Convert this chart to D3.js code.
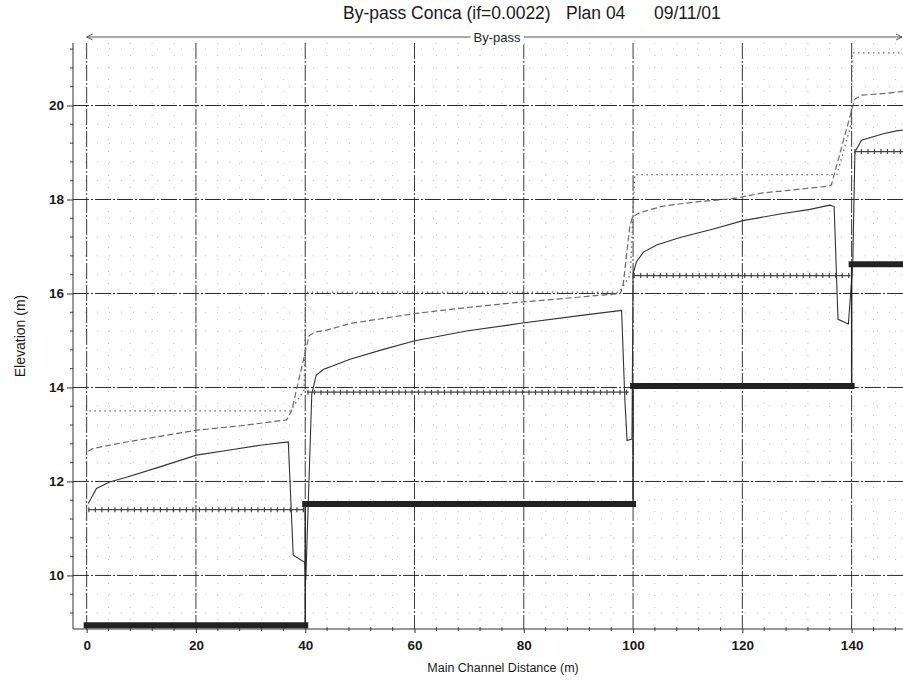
<!DOCTYPE html>
<html><head><meta charset="utf-8">
<script src="https://cdn.jsdelivr.net/npm/d3@7"></script>
<style>
html,body{margin:0;padding:0;background:#fff;}
svg{display:block;font-family:"Liberation Sans",Arial,sans-serif;}
</style></head>
<body>
<svg id="c" width="903" height="682"></svg>
<script>
// ---- data ----
const title = ["By-pass Conca (if=0.0022)", "Plan 04", "09/11/01"];
const reachName = "By-pass";
const xLabel = "Main Channel Distance (m)";
const yLabel = "Elevation (m)";
const xTicks = [0, 20, 40, 60, 80, 100, 120, 140];
const yTicks = [10, 12, 14, 16, 18, 20];

const groundStation = [0, 40, 40, 100, 100, 140, 140, 150];
const groundElev    = [8.94, 8.94, 11.52, 11.52, 14.03, 14.03, 16.62, 16.62];

const bankStation = [0.3, 39.8, null, 40.4, 99.2, null, 100.1, 139.8, null, 140.5, 150];
const bankElev    = [11.40, 11.40, null, 13.90, 13.90, null, 16.38, 16.38, null, 19.02, 19.02];

const wallStation = [0.5, 37.3, 39.8, 40.1, 97.5, 99.5, 100.3, 137.3, 139.9, 140.1, 150];
const wallElev    = [13.50, 13.50, 13.95, 16.03, 16.03, 16.40, 18.53, 18.53, 19.60, 21.12, 21.12];

const egStation = [0.3, 1.1, 7.3, 13.4, 20.1, 28.6, 36.6, 37.5, 40.7, 41.8, 43.9, 48.2, 59.9, 69.5, 79.8, 90.9, 97.7, 98.2, 99.4, 99.9, 101.2, 105.5, 111.6, 118.3, 123.8, 128.1, 135.4, 136.3, 140.0, 140.6, 141.9, 146.4, 150];
const egElev    = [12.64, 12.70, 12.84, 12.96, 13.09, 13.19, 13.31, 13.50, 15.10, 15.18, 15.22, 15.36, 15.57, 15.70, 15.82, 15.93, 16.00, 16.20, 17.42, 17.63, 17.72, 17.86, 17.95, 18.02, 18.14, 18.19, 18.28, 18.31, 19.90, 20.14, 20.22, 20.26, 20.31];

const wsStation = [0.3, 1.8, 4.2, 7.3, 13.4, 20.1, 25.6, 31.7, 36.9, 37.8, 39.9, 40.1, 41.2, 42.0, 43.3, 48.2, 54.3, 59.9, 69.5, 79.8, 90.9, 97.9, 98.5, 98.9, 99.8, 100.0, 100.6, 101.9, 104.3, 108.6, 114.7, 120.1, 126.9, 132.4, 136.0, 136.8, 137.5, 139.4, 140.2, 140.6, 141.8, 145.8, 148.2, 150];
const wsElev    = [11.53, 11.85, 11.99, 12.09, 12.31, 12.56, 12.66, 12.77, 12.84, 10.43, 10.28, 9.90, 13.86, 14.26, 14.38, 14.60, 14.81, 14.99, 15.20, 15.37, 15.54, 15.64, 13.73, 12.87, 12.90, 16.42, 16.67, 16.88, 17.03, 17.19, 17.37, 17.55, 17.69, 17.79, 17.88, 17.85, 15.45, 15.35, 16.60, 19.01, 19.26, 19.40, 19.46, 19.49];

// ---- layout ----
const L = 73, R = 903, T = 43, B = 629;
const x = d3.scaleLinear().domain([-2.5, 149.4]).range([L, R]);
const y = d3.scaleLinear().domain([8.86, 21.33]).range([B, T]);
const svg = d3.select("#c");

svg.append("defs").append("clipPath").attr("id", "clip")
  .append("rect").attr("x", L).attr("y", T).attr("width", R - L).attr("height", B - T);

// minor grid
const xMinor = d3.range(0, 150, 4).filter(v => !xTicks.includes(v));
const yMinor = d3.range(9.2, 21.3, 0.4).map(v => +v.toFixed(1)).filter(v => !yTicks.includes(v));
const grid = svg.append("g").attr("clip-path", "url(#clip)");
grid.selectAll(".mx").data(xMinor).join("line")
  .attr("x1", d => x(d)).attr("x2", d => x(d)).attr("y1", T).attr("y2", B)
  .attr("stroke", "#c4c4c4").attr("stroke-width", 1).attr("stroke-dasharray", "1,11");
grid.selectAll(".my").data(yMinor).join("line")
  .attr("x1", L).attr("x2", R).attr("y1", d => y(d)).attr("y2", d => y(d))
  .attr("stroke", "#c4c4c4").attr("stroke-width", 1).attr("stroke-dasharray", "1,11");
// major grid
grid.selectAll(".gx").data(xTicks).join("line")
  .attr("x1", d => x(d)).attr("x2", d => x(d)).attr("y1", T).attr("y2", B)
  .attr("stroke", "#3a3a3a").attr("stroke-width", 1).attr("stroke-dasharray", "16,2,2,2");
grid.selectAll(".gy").data(yTicks).join("line")
  .attr("x1", L).attr("x2", R).attr("y1", d => y(d)).attr("y2", d => y(d))
  .attr("stroke", "#2a2a2a").attr("stroke-width", 1).attr("stroke-dasharray", "16,2,2,2");

// axes
const yAxis = d3.axisLeft(y).tickValues(yTicks).tickSize(6).tickPadding(3).tickFormat(d3.format("d"));
const gy = svg.append("g").attr("transform", `translate(${L},0)`).call(yAxis);
const xAxis = d3.axisBottom(x).tickValues(xTicks).tickSize(4).tickPadding(7).tickFormat(d3.format("d"));
const gx = svg.append("g").attr("transform", `translate(0,${B})`).call(xAxis);
[gx, gy].forEach(g => {
  g.select(".domain").remove();
  g.selectAll("line").attr("stroke", "#333");
  g.selectAll("text").attr("fill", "#1a1a1a").style("font-size", "13.5px").style("font-weight", "bold")
    .style("font-family", "'Liberation Sans',Arial,sans-serif");
});
svg.append("g").selectAll("line").data(yMinor).join("line")
  .attr("x1", L - 3).attr("x2", L).attr("y1", d => y(d)).attr("y2", d => y(d)).attr("stroke", "#444");
svg.append("g").selectAll("line").data(xMinor).join("line")
  .attr("x1", d => x(d)).attr("x2", d => x(d)).attr("y1", B - 2).attr("y2", B + 2).attr("stroke", "#444");
svg.append("line").attr("x1", L).attr("x2", L).attr("y1", T).attr("y2", B).attr("stroke", "#333");
svg.append("line").attr("x1", L).attr("x2", R).attr("y1", B).attr("y2", B).attr("stroke", "#333");

// series
const plot = svg.append("g").attr("clip-path", "url(#clip)");
const line = d3.line().defined(d => d[0] !== null).x(d => x(d[0])).y(d => y(d[1]));
const zip = (a, b) => a.map((v, i) => [v, b[i]]);

// wall (dotted)
plot.append("path").datum(zip(wallStation, wallElev)).attr("d", line)
  .attr("fill", "none").attr("stroke", "#666").attr("stroke-width", 1.3).attr("stroke-dasharray", "1.5,3.5");
// energy grade (dashed)
plot.append("path").datum(zip(egStation, egElev)).attr("d", line)
  .attr("fill", "none").attr("stroke", "#6a6a6a").attr("stroke-width", 1.2).attr("stroke-dasharray", "6,3");
// water surface (solid)
plot.append("path").datum(zip(wsStation, wsElev)).attr("d", line)
  .attr("fill", "none").attr("stroke", "#333").attr("stroke-width", 1.1);
// bank line with cross ticks
const bankData = zip(bankStation, bankElev);
plot.append("path").datum(bankData).attr("d", line)
  .attr("fill", "none").attr("stroke", "#444").attr("stroke-width", 1.2);
plot.append("path").datum(bankData).attr("d", line)
  .attr("fill", "none").attr("stroke", "#444").attr("stroke-width", 5).attr("stroke-dasharray", "1.2,5.3");
// ground
const gData = zip(groundStation, groundElev);
plot.append("path").datum(gData).attr("d", line)
  .attr("fill", "none").attr("stroke", "#222").attr("stroke-width", 1.4);
const gFlat = gData.slice(1).map((d, i) => [gData[i], d]).filter(s => s[0][1] === s[1][1]);
plot.selectAll(".gs").data(gFlat).join("line")
  .attr("x1", d => x(d[0][0])).attr("x2", d => x(d[1][0]))
  .attr("y1", d => y(d[0][1])).attr("y2", d => y(d[1][1]))
  .attr("stroke", "#222").attr("stroke-width", 6).attr("stroke-linecap", "square");

// reach label arrow
const ay = 37;
const reachG = svg.append("g");
reachG.append("line").attr("x1", x(0)).attr("x2", R - 1).attr("y1", ay).attr("y2", ay)
  .attr("stroke", "#555").attr("stroke-width", 1);
reachG.append("path").attr("d", `M${x(0) + 6},${ay - 3}L${x(0)},${ay}L${x(0) + 6},${ay + 3}`)
  .attr("fill", "none").attr("stroke", "#555");
reachG.append("path").attr("d", `M${R - 7},${ay - 3}L${R - 1},${ay}L${R - 7},${ay + 3}`)
  .attr("fill", "none").attr("stroke", "#555");
const bgRect = reachG.append("rect").attr("fill", "#fff");
const rl = reachG.append("text").attr("x", 497).attr("y", ay + 4.5).attr("text-anchor", "middle")
  .style("font-size", "13px").attr("fill", "#222").text(reachName);
const bb = rl.node().getBBox();
bgRect.attr("x", bb.x - 3).attr("y", bb.y).attr("width", bb.width + 6).attr("height", bb.height);

// title
const tt = svg.append("text").attr("y", 19).style("font-size", "17.5px").attr("fill", "#1a1a1a");
const tx = [343, 566, 654];
title.forEach((s, i) => tt.append("tspan").attr("x", tx[i]).text(s));

// axis labels
svg.append("text").attr("x", 503).attr("y", 672).attr("text-anchor", "middle")
  .style("font-size", "12.5px").attr("fill", "#1a1a1a").text(xLabel);
svg.append("text").attr("transform", "translate(25,336) rotate(-90)").attr("text-anchor", "middle")
  .style("font-size", "14px").attr("fill", "#1a1a1a").text(yLabel);
</script>
</body></html>
